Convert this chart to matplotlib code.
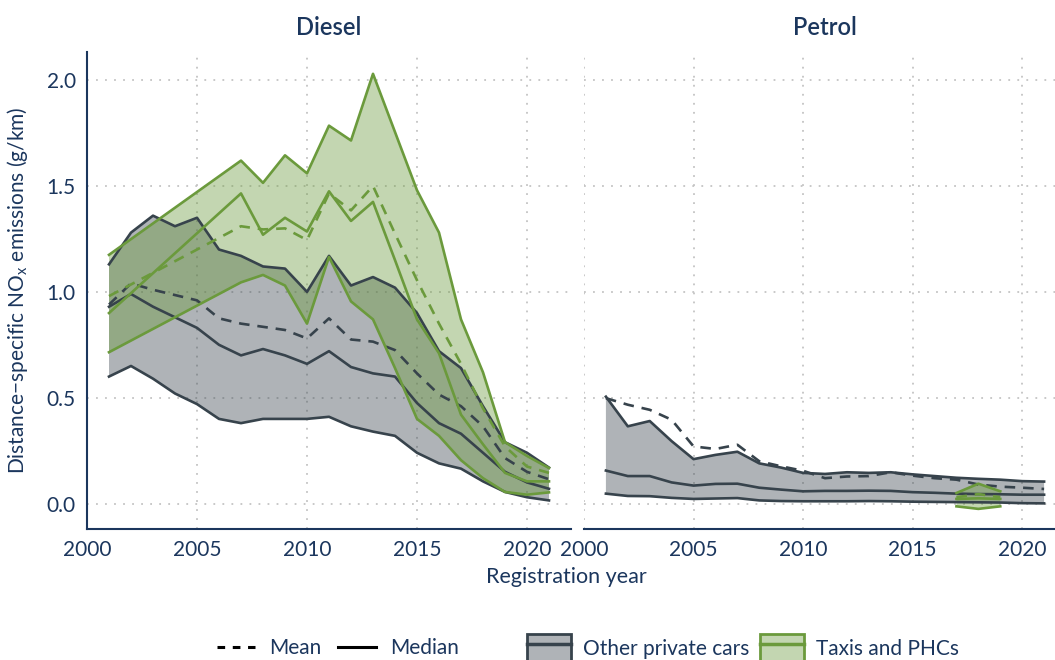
import matplotlib.pyplot as plt
from matplotlib.lines import Line2D
from matplotlib.patches import Patch
from matplotlib.legend_handler import HandlerTuple
from matplotlib.colors import to_rgba

plt.rcParams['font.family'] = ['Lato', 'DejaVu Sans']

# Diesel, other private cars (all years 2001-2021)
years = list(range(2001, 2022))
diesel_other_hi = [1.13, 1.28, 1.36, 1.31, 1.35, 1.20, 1.17, 1.12, 1.11, 1.00, 1.17,
                   1.03, 1.07, 1.02, 0.90, 0.72, 0.64, 0.46, 0.29, 0.24, 0.17]
diesel_other_lo = [0.60, 0.65, 0.59, 0.52, 0.47, 0.40, 0.38, 0.40, 0.40, 0.40, 0.41,
                   0.365, 0.34, 0.32, 0.24, 0.19, 0.165, 0.105, 0.055, 0.03, 0.015]
diesel_other_med = [0.93, 0.99, 0.93, 0.88, 0.83, 0.75, 0.70, 0.73, 0.70, 0.66, 0.72,
                    0.645, 0.615, 0.60, 0.475, 0.38, 0.33, 0.24, 0.15, 0.10, 0.07]
diesel_other_mean = [0.94, 1.04, 1.01, 0.985, 0.96, 0.875, 0.85, 0.835, 0.82, 0.78, 0.875,
                     0.775, 0.765, 0.725, 0.615, 0.515, 0.46, 0.365, 0.215, 0.15, 0.115]

# Diesel, taxis and PHCs (no data 2002-2006)
taxi_years = [2001, 2007, 2008, 2009, 2010, 2011, 2012, 2013, 2014, 2015, 2016,
              2017, 2018, 2019, 2020, 2021]
diesel_taxi_hi = [1.175, 1.62, 1.515, 1.645, 1.56, 1.785, 1.715, 2.03, 1.755, 1.48, 1.28,
                  0.87, 0.62, 0.29, 0.225, 0.168]
diesel_taxi_lo = [0.715, 1.045, 1.08, 1.03, 0.85, 1.165, 0.955, 0.87, 0.64, 0.40, 0.32,
                  0.205, 0.12, 0.055, 0.042, 0.053]
diesel_taxi_med = [0.90, 1.465, 1.27, 1.35, 1.285, 1.475, 1.335, 1.425, 1.15, 0.87, 0.71,
                   0.42, 0.28, 0.145, 0.105, 0.105]
diesel_taxi_mean = [0.98, 1.31, 1.295, 1.30, 1.245, 1.465, 1.385, 1.50, 1.275, 1.055, 0.85,
                    0.66, 0.45, 0.27, 0.175, 0.145]

# Petrol, other private cars
petrol_other_hi = [0.505, 0.365, 0.39, 0.295, 0.21, 0.23, 0.245, 0.19, 0.17, 0.145, 0.14,
                   0.148, 0.145, 0.148, 0.138, 0.13, 0.122, 0.117, 0.113, 0.106, 0.104]
petrol_other_lo = [0.047, 0.036, 0.035, 0.027, 0.022, 0.024, 0.026, 0.015, 0.012, 0.011, 0.011,
                   0.011, 0.012, 0.011, 0.009, 0.008, 0.007, 0.006, 0.005, 0.002, 0.001]
petrol_other_med = [0.156, 0.13, 0.13, 0.10, 0.085, 0.093, 0.094, 0.075, 0.066, 0.058, 0.06,
                    0.06, 0.061, 0.06, 0.054, 0.051, 0.047, 0.045, 0.044, 0.042, 0.042]
petrol_other_mean = [0.498, 0.467, 0.443, 0.396, 0.27, 0.258, 0.278, 0.20, 0.176, 0.155, 0.12,
                     0.128, 0.13, 0.148, 0.132, 0.12, 0.113, 0.09, 0.08, 0.075, 0.069]

# Petrol, taxis and PHCs
petrol_taxi_years = [2017, 2018, 2019]
petrol_taxi_hi = [0.05, 0.094, 0.058]
petrol_taxi_lo = [-0.013, -0.025, -0.013]
petrol_taxi_med = [0.022, 0.025, 0.022]
petrol_taxi_mean = [0.03, 0.045, 0.03]

navy = '#1b365d'
grey_col = '#37434c'
green_col = '#6b9a3c'
lw = 1.9
dash = (0, (4, 3))


def band(ax, x, lo, hi, med, mean, col):
    ax.fill_between(x, lo, hi, facecolor=col, alpha=0.4, edgecolor='none')
    ax.plot(x, lo, color=col, lw=lw)
    ax.plot(x, hi, color=col, lw=lw)
    ax.plot(x, med, color=col, lw=lw)
    ax.plot(x, mean, color=col, lw=lw, ls=dash)


fig = plt.figure(figsize=(10.55, 6.6), dpi=100)
ax1 = fig.add_axes([87 / 1055, 1 - 529 / 660, 484 / 1055, 477 / 660])
ax2 = fig.add_axes([584 / 1055, 1 - 529 / 660, 482 / 1055, 477 / 660])

band(ax1, years, diesel_other_lo, diesel_other_hi, diesel_other_med, diesel_other_mean, grey_col)
band(ax1, taxi_years, diesel_taxi_lo, diesel_taxi_hi, diesel_taxi_med, diesel_taxi_mean, green_col)
band(ax2, years, petrol_other_lo, petrol_other_hi, petrol_other_med, petrol_other_mean, grey_col)
band(ax2, petrol_taxi_years, petrol_taxi_lo, petrol_taxi_hi, petrol_taxi_med, petrol_taxi_mean, green_col)

for ax, title in [(ax1, 'Diesel'), (ax2, 'Petrol')]:
    ax.set_xlim(2000, 2022)
    ax.set_ylim(-0.12, 2.133)
    ax.set_xticks([2000, 2005, 2010, 2015, 2020])
    ax.set_yticks([0, 0.5, 1.0, 1.5, 2.0])
    ax.grid(color='#c4c4c4', linestyle=(0, (1, 4)), linewidth=1.3)
    ax.set_axisbelow(True)
    ax.tick_params(length=0, labelsize=15, labelcolor=navy, pad=8)
    for s in ['top', 'right', 'left']:
        ax.spines[s].set_visible(False)
    ax.spines['bottom'].set_color(navy)
    ax.spines['bottom'].set_linewidth(1.5)
    ax.set_title(title, fontsize=17, color=navy, fontweight='semibold', pad=12)

ax1.spines['left'].set_visible(True)
ax1.spines['left'].set_color(navy)
ax1.spines['left'].set_linewidth(1.5)
ax1.set_yticklabels(['0.0', '0.5', '1.0', '1.5', '2.0'])
ax2.tick_params(labelleft=False)
ax1.set_ylabel('Distance\u2212specific NO$_\\mathregular{x}$ emissions (g/km)',
               fontsize=15, color=navy, labelpad=12)
fig.text(566 / 1055, 1 - 577 / 660, 'Registration year', fontsize=15.5, color=navy,
         ha='center', va='center')

# legends
line_handles = [Line2D([], [], color='black', lw=2.2, ls=(0, (2.5, 2.5))),
                Line2D([], [], color='black', lw=2.2)]
leg1 = fig.legend(line_handles, ['Mean', 'Median'], loc='center', ncol=2,
                  bbox_to_anchor=(338 / 1055, 1 - 648 / 660), frameon=False,
                  fontsize=15, labelcolor=navy, handlelength=1.8, handletextpad=0.7,
                  columnspacing=0.8)

fill_handles = []
for col in [grey_col, green_col]:
    fill_handles.append((Patch(facecolor=to_rgba(col, 0.4), edgecolor=col, lw=2),
                         Line2D([], [], color=col, lw=2.5)))
leg2 = fig.legend(fill_handles, ['Other private cars', 'Taxis and PHCs'], loc='center', ncol=2,
                  bbox_to_anchor=(743 / 1055, 1 - 648 / 660), frameon=False,
                  fontsize=15, labelcolor=navy, handlelength=2.1, handleheight=1.7,
                  handletextpad=0.6, columnspacing=0.5,
                  handler_map={tuple: HandlerTuple(ndivide=1, pad=0)})

fig.savefig('out.png', dpi=100)
